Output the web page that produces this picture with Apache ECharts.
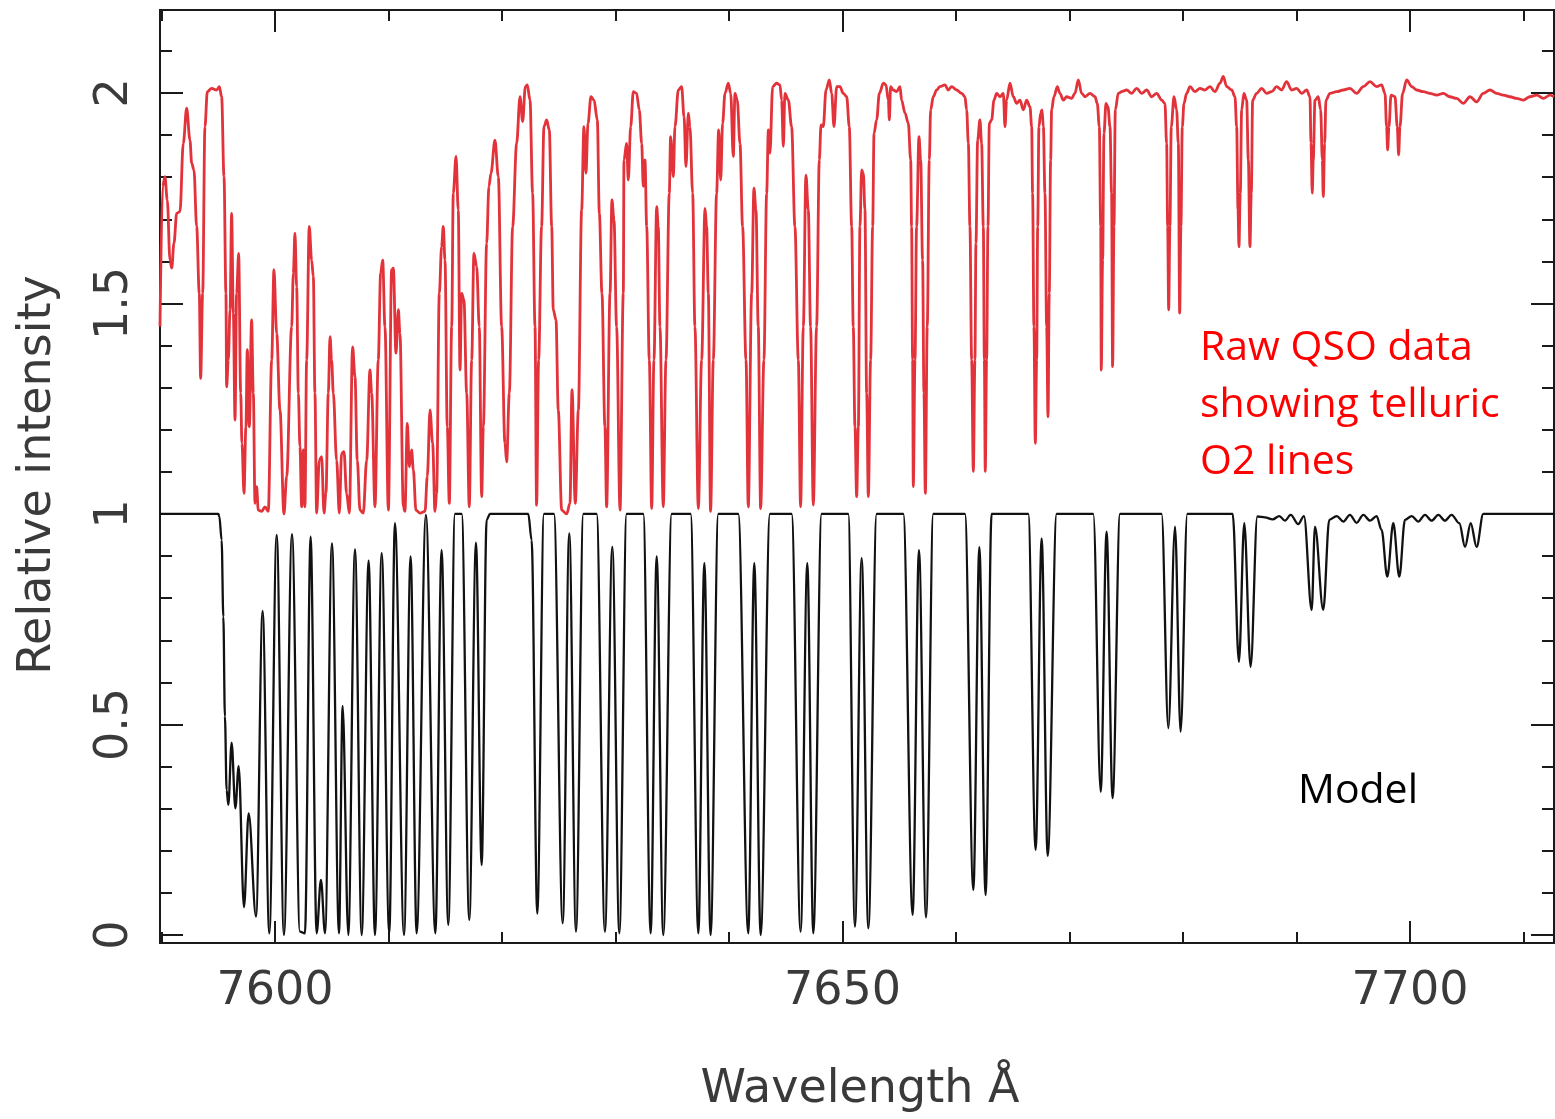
<!DOCTYPE html>
<html><head><meta charset="utf-8">
<script src="https://cdn.jsdelivr.net/npm/echarts@6/dist/echarts.min.js"></script>
<style>html,body{margin:0;padding:0;background:#fff;}#c{width:1555px;height:1119px;}</style>
</head><body><div id="c"></div>
<script>
const xRange = [7589.87, 7712.69];
const yRange = [-0.019, 2.197];
const xMajorTicks = [7600, 7650, 7700];
const xMinorTicks = [7590, 7610, 7620, 7630, 7640, 7660, 7670, 7680, 7690, 7710];
const yMajorTicks = [0, 0.5, 1, 1.5, 2];
const yMinorTicks = [0.1,0.2,0.3,0.4,0.6,0.7,0.8,0.9,1.1,1.2,1.3,1.4,1.6,1.7,1.8,1.9,2.1];
const xTitle = 'Wavelength Å';
const yTitle = 'Relative intensity';
const qsoLabel = ['Raw QSO data', 'showing telluric', 'O2 lines'];
const modelLabel = 'Model';

const modelSpectrum = [[7589.87,1.0],[7595.01,1.0],[7595.10,0.994],[7595.30,0.938],[7595.45,0.756],[7595.59,0.519],[7595.74,0.344],[7595.89,0.309],[7596.18,0.457],[7596.51,0.301],[7596.80,0.401],[7597.27,0.066],[7597.68,0.289],[7598.33,0.044],[7598.91,0.770],[7599.50,0.004],[7600.15,0.950],[7600.79,0.0],[7601.50,0.952],[7602.20,0.008],[7602.64,0.004],[7603.14,0.946],[7603.67,0.004],[7604.05,0.131],[7604.41,0.004],[7605.02,0.930],[7605.64,0.004],[7605.96,0.544],[7606.46,0.0],[7607.05,0.916],[7607.64,0.0],[7608.25,0.889],[7608.81,0.0],[7609.40,0.907],[7610.07,0.004],[7610.57,0.978],[7611.37,0.0],[7611.95,0.899],[7612.48,0.004],[7613.30,0.998],[7614.13,0.004],[7614.68,0.914],[7615.27,0.024],[7615.86,1.0],[7616.45,1.0],[7617.12,0.036],[7617.71,0.932],[7618.21,0.166],[7618.65,0.986],[7618.94,1.0],[7622.32,1.0],[7622.61,0.938],[7623.11,0.051],[7623.70,1.0],[7624.58,1.0],[7625.35,0.028],[7625.93,0.954],[7626.52,0.008],[7627.17,1.0],[7628.34,1.0],[7629.07,0.008],[7629.72,0.922],[7630.34,0.004],[7630.98,1.0],[7632.45,1.0],[7633.10,0.004],[7633.63,0.899],[7634.21,0.0],[7634.95,1.0],[7636.62,1.0],[7637.30,0.004],[7637.83,0.883],[7638.38,0.0],[7639.06,1.0],[7640.82,1.0],[7641.70,0.004],[7642.23,0.883],[7642.79,0.0],[7643.61,1.0],[7645.52,1.0],[7646.31,0.008],[7646.90,0.883],[7647.43,0.004],[7648.16,1.0],[7650.51,1.0],[7651.10,0.020],[7651.69,0.895],[7652.28,0.016],[7653.01,1.0],[7655.36,1.0],[7656.18,0.048],[7656.74,0.914],[7657.36,0.042],[7658.00,1.0],[7660.79,1.0],[7661.53,0.107],[7662.06,0.921],[7662.61,0.095],[7663.14,1.0],[7666.37,1.0],[7667.02,0.202],[7667.55,0.942],[7668.08,0.188],[7668.87,1.0],[7672.10,1.0],[7672.75,0.340],[7673.27,0.958],[7673.80,0.325],[7674.45,1.0],[7678.12,1.0],[7678.71,0.491],[7679.30,0.970],[7679.79,0.483],[7680.38,1.0],[7684.38,1.0],[7684.93,0.649],[7685.40,0.978],[7685.96,0.637],[7686.55,0.994],[7687.22,0.992],[7687.90,0.987],[7688.49,0.995],[7688.99,0.984],[7689.49,0.998],[7690.16,0.976],[7690.66,0.995],[7691.34,0.772],[7691.63,0.970],[7692.36,0.772],[7692.89,0.986],[7693.54,0.995],[7694.13,0.982],[7694.71,0.998],[7695.30,0.979],[7695.89,0.998],[7696.48,0.984],[7697.06,0.995],[7697.50,0.962],[7698.00,0.851],[7698.53,0.978],[7699.06,0.851],[7699.56,0.986],[7700.15,0.995],[7700.73,0.982],[7701.32,0.998],[7701.91,0.984],[7702.50,0.998],[7703.08,0.984],[7703.67,0.998],[7704.35,0.978],[7704.85,0.922],[7705.35,0.978],[7705.87,0.922],[7706.46,1.0],[7712.69,1.0]];

const qsoSpectrum = [[7589.87,1.445],[7590.10,1.778],[7590.31,1.801],[7590.51,1.746],[7590.75,1.603],[7590.90,1.584],[7591.10,1.643],[7591.34,1.714],[7591.63,1.718],[7591.92,1.880],[7592.22,1.964],[7592.51,1.888],[7592.66,1.833],[7592.86,1.817],[7593.10,1.683],[7593.33,1.524],[7593.45,1.322],[7593.63,1.524],[7593.83,1.920],[7594.04,2.003],[7594.42,2.011],[7594.86,2.007],[7595.10,2.015],[7595.30,1.991],[7595.51,1.801],[7595.68,1.524],[7595.74,1.302],[7595.89,1.366],[7596.04,1.485],[7596.18,1.714],[7596.33,1.477],[7596.48,1.223],[7596.62,1.524],[7596.80,1.619],[7596.98,1.287],[7597.09,1.168],[7597.27,1.049],[7597.44,1.207],[7597.56,1.390],[7597.74,1.207],[7597.94,1.461],[7598.09,1.287],[7598.24,1.025],[7598.38,1.065],[7598.53,1.009],[7598.83,1.006],[7599.12,1.017],[7599.41,1.006],[7599.71,1.366],[7599.91,1.580],[7600.15,1.429],[7600.44,1.247],[7600.79,1.0],[7601.03,1.089],[7601.47,1.445],[7601.62,1.572],[7601.76,1.667],[7601.91,1.540],[7602.06,1.287],[7602.20,1.160],[7602.35,1.017],[7602.50,1.152],[7602.64,1.017],[7602.79,1.366],[7603.02,1.683],[7603.23,1.603],[7603.38,1.564],[7603.52,1.287],[7603.67,1.002],[7603.91,1.128],[7604.11,1.136],[7604.32,1.002],[7604.49,1.049],[7604.70,1.287],[7604.85,1.421],[7604.99,1.366],[7605.14,1.287],[7605.43,1.128],[7605.67,1.002],[7605.87,1.144],[7606.08,1.148],[7606.31,1.049],[7606.55,1.002],[7606.84,1.397],[7607.05,1.326],[7607.25,1.128],[7607.49,1.009],[7607.78,1.002],[7608.08,1.128],[7608.37,1.342],[7608.52,1.287],[7608.81,1.017],[7609.10,1.366],[7609.31,1.572],[7609.49,1.603],[7609.69,1.445],[7609.99,1.009],[7610.28,1.580],[7610.43,1.584],[7610.66,1.382],[7610.87,1.485],[7611.01,1.429],[7611.31,1.017],[7611.45,1.006],[7611.66,1.215],[7611.84,1.112],[7612.04,1.152],[7612.19,1.105],[7612.42,1.009],[7612.78,1.002],[7613.22,1.006],[7613.42,1.089],[7613.66,1.247],[7613.89,1.168],[7614.10,1.006],[7614.24,1.049],[7614.48,1.524],[7614.68,1.635],[7614.83,1.683],[7614.98,1.603],[7615.18,1.207],[7615.36,1.025],[7615.57,1.445],[7615.71,1.762],[7615.95,1.849],[7616.15,1.722],[7616.30,1.342],[7616.45,1.524],[7616.65,1.508],[7616.89,1.287],[7617.12,1.017],[7617.33,1.366],[7617.53,1.619],[7617.77,1.588],[7618.00,1.445],[7618.21,1.041],[7618.36,1.207],[7618.65,1.643],[7618.85,1.778],[7619.03,1.809],[7619.38,1.888],[7619.68,1.801],[7619.97,1.445],[7620.26,1.168],[7620.41,1.124],[7620.65,1.287],[7620.94,1.683],[7621.29,1.880],[7621.59,1.991],[7621.82,1.932],[7622.06,2.015],[7622.23,2.019],[7622.47,1.983],[7622.70,1.762],[7622.91,1.445],[7623.05,1.021],[7623.23,1.366],[7623.49,1.683],[7623.70,1.920],[7623.94,1.936],[7624.17,1.912],[7624.38,1.683],[7624.52,1.485],[7624.76,1.461],[7624.96,1.247],[7625.26,1.009],[7625.70,1.0],[7625.99,1.025],[7626.17,1.295],[7626.46,1.025],[7626.73,1.247],[7627.02,1.722],[7627.22,1.920],[7627.40,1.809],[7627.58,1.928],[7627.84,1.991],[7628.11,1.983],[7628.40,1.936],[7628.58,1.714],[7628.81,1.524],[7629.07,1.207],[7629.22,1.017],[7629.52,1.524],[7629.69,1.746],[7629.87,1.698],[7630.10,1.445],[7630.40,1.009],[7630.69,1.524],[7630.75,1.841],[7630.98,1.880],[7631.13,1.793],[7631.34,1.920],[7631.57,2.003],[7631.86,1.999],[7632.10,1.960],[7632.31,1.880],[7632.45,1.778],[7632.60,1.841],[7632.75,1.683],[7632.98,1.366],[7633.19,1.013],[7633.39,1.366],[7633.63,1.730],[7633.77,1.683],[7633.92,1.445],[7634.21,1.017],[7634.45,1.366],[7634.74,1.762],[7634.86,1.896],[7635.10,1.801],[7635.24,1.920],[7635.54,2.007],[7635.83,2.015],[7636.04,1.944],[7636.21,1.825],[7636.42,1.952],[7636.56,1.920],[7636.80,1.762],[7637.00,1.445],[7637.30,1.013],[7637.59,1.366],[7637.89,1.726],[7638.03,1.683],[7638.18,1.524],[7638.38,1.006],[7638.62,1.366],[7638.91,1.762],[7639.09,1.912],[7639.27,1.793],[7639.44,1.928],[7639.65,1.999],[7639.94,2.023],[7640.15,1.999],[7640.38,1.849],[7640.53,1.999],[7640.73,1.983],[7640.97,1.880],[7641.20,1.683],[7641.50,1.366],[7641.70,1.017],[7642.00,1.524],[7642.20,1.774],[7642.38,1.722],[7642.58,1.445],[7642.79,1.013],[7643.08,1.366],[7643.32,1.762],[7643.47,1.912],[7643.61,1.857],[7643.85,2.015],[7644.20,2.023],[7644.49,2.019],[7644.64,1.983],[7644.79,1.873],[7644.93,1.999],[7645.23,1.983],[7645.52,1.920],[7645.81,1.683],[7646.11,1.366],[7646.31,1.017],[7646.55,1.445],[7646.78,1.805],[7646.99,1.722],[7647.19,1.445],[7647.43,1.021],[7647.72,1.445],[7647.96,1.841],[7648.11,1.924],[7648.31,1.920],[7648.55,2.007],[7648.84,2.031],[7649.05,1.999],[7649.25,1.920],[7649.49,2.015],[7649.78,2.015],[7650.07,1.999],[7650.37,1.991],[7650.60,1.920],[7650.81,1.683],[7650.95,1.445],[7651.10,1.207],[7651.25,1.041],[7651.40,1.207],[7651.54,1.683],[7651.69,1.817],[7651.84,1.809],[7651.98,1.722],[7652.13,1.287],[7652.28,1.041],[7652.48,1.366],[7652.66,1.683],[7652.78,1.904],[7653.01,1.936],[7653.25,1.999],[7653.60,2.023],[7653.83,2.019],[7654.04,1.983],[7654.13,1.936],[7654.24,2.015],[7654.48,2.007],[7654.77,2.003],[7655.07,2.015],[7655.21,1.983],[7655.51,1.952],[7655.80,1.928],[7656.01,1.841],[7656.09,1.683],[7656.18,1.366],[7656.24,1.065],[7656.39,1.366],[7656.53,1.683],[7656.74,1.896],[7656.89,1.841],[7657.06,1.603],[7657.18,1.287],[7657.30,1.049],[7657.47,1.445],[7657.65,1.841],[7657.77,1.960],[7658.00,1.991],[7658.30,2.007],[7658.59,2.015],[7659.03,2.019],[7659.32,2.007],[7659.62,2.015],[7660.06,2.007],[7660.50,1.999],[7660.79,1.991],[7660.94,1.960],[7661.09,1.880],[7661.23,1.683],[7661.38,1.366],[7661.53,1.101],[7661.67,1.366],[7661.76,1.643],[7661.91,1.888],[7662.11,1.936],[7662.26,1.880],[7662.41,1.683],[7662.50,1.366],[7662.58,1.101],[7662.70,1.366],[7662.82,1.683],[7662.94,1.928],[7663.14,1.936],[7663.35,1.983],[7663.58,1.999],[7663.88,1.991],[7664.17,1.999],[7664.32,1.920],[7664.46,1.983],[7664.76,2.023],[7665.05,1.991],[7665.35,1.975],[7665.64,1.983],[7665.93,1.960],[7666.23,1.983],[7666.52,1.967],[7666.67,1.920],[7666.75,1.762],[7666.87,1.445],[7666.99,1.168],[7667.11,1.366],[7667.20,1.683],[7667.31,1.920],[7667.46,1.952],[7667.58,1.960],[7667.70,1.920],[7667.84,1.762],[7667.99,1.445],[7668.11,1.231],[7668.22,1.524],[7668.34,1.841],[7668.43,1.960],[7668.63,1.991],[7668.93,2.015],[7669.16,1.999],[7669.46,1.983],[7669.75,1.991],[7670.19,1.987],[7670.48,1.999],[7670.78,2.031],[7671.07,1.999],[7671.37,1.991],[7671.81,1.999],[7672.25,1.991],[7672.45,1.975],[7672.63,1.920],[7672.75,1.683],[7672.80,1.342],[7672.92,1.603],[7673.04,1.904],[7673.22,1.975],[7673.39,1.967],[7673.57,1.920],[7673.71,1.762],[7673.80,1.350],[7673.92,1.683],[7674.04,1.960],[7674.30,1.999],[7674.60,2.003],[7675.04,2.007],[7675.48,1.999],[7675.92,2.011],[7676.36,1.999],[7676.80,2.007],[7677.24,1.991],[7677.68,1.999],[7678.12,1.983],[7678.41,1.975],[7678.56,1.880],[7678.65,1.683],[7678.74,1.485],[7678.85,1.683],[7678.97,1.920],[7679.21,1.991],[7679.44,1.960],[7679.59,1.880],[7679.71,1.477],[7679.82,1.683],[7679.94,1.920],[7680.09,1.975],[7680.32,1.999],[7680.62,2.015],[7681.06,2.003],[7681.50,2.011],[7681.94,2.007],[7682.38,2.015],[7682.82,2.003],[7683.26,2.023],[7683.55,2.039],[7683.85,2.015],[7684.29,2.007],[7684.58,1.991],[7684.73,1.920],[7684.85,1.722],[7684.93,1.635],[7685.05,1.762],[7685.17,1.960],[7685.37,1.999],[7685.61,1.983],[7685.76,1.841],[7685.90,1.635],[7686.02,1.762],[7686.14,1.983],[7686.49,1.999],[7686.93,2.011],[7687.37,1.999],[7687.81,2.003],[7688.25,2.015],[7688.69,2.007],[7689.13,2.027],[7689.57,2.007],[7690.01,2.011],[7690.46,1.999],[7690.90,2.007],[7691.19,1.991],[7691.28,1.880],[7691.39,1.762],[7691.48,1.841],[7691.63,1.983],[7691.92,1.991],[7692.13,1.960],[7692.28,1.841],[7692.36,1.754],[7692.48,1.880],[7692.60,1.983],[7692.95,1.999],[7693.54,2.003],[7694.13,2.007],[7694.71,2.011],[7695.30,1.999],[7695.89,2.015],[7696.48,2.027],[7697.06,2.015],[7697.50,2.019],[7697.80,1.999],[7697.94,1.920],[7698.03,1.865],[7698.15,1.920],[7698.33,1.995],[7698.68,1.991],[7698.88,1.920],[7699.00,1.853],[7699.12,1.920],[7699.35,1.999],[7699.71,2.031],[7700.15,2.015],[7700.59,2.007],[7701.17,2.003],[7701.76,1.999],[7702.35,1.995],[7702.94,1.999],[7703.52,1.991],[7704.11,1.987],[7704.70,1.975],[7705.29,1.991],[7705.87,1.979],[7706.46,1.999],[7707.05,2.007],[7707.64,1.999],[7708.22,1.995],[7708.81,1.991],[7709.40,1.987],[7709.99,1.983],[7710.57,1.991],[7711.16,1.995],[7711.75,1.987],[7712.33,1.995],[7712.69,1.991]];

const axisColor = '#1a1a1a';
const labelFont = { fontFamily: "'DejaVu Sans', sans-serif", fontSize: 46, color: '#3a3a3a' };

function xAxisDef(position, ticks, len, withLabels) {
  return {
    type: 'value', position: position, min: xRange[0], max: xRange[1],
    axisLine: { show: true, onZero: false, lineStyle: { color: axisColor, width: 2 } },
    axisTick: { show: true, inside: true, length: len, customValues: ticks, lineStyle: { color: axisColor, width: 2 } },
    axisLabel: Object.assign({ show: withLabels, customValues: ticks, margin: 26, formatter: v => String(v) }, labelFont),
    splitLine: { show: false }
  };
}
function yAxisDef(position, ticks, len, withLabels) {
  return {
    type: 'value', position: position, min: yRange[0], max: yRange[1],
    axisLine: { show: true, onZero: false, lineStyle: { color: axisColor, width: 2 } },
    axisTick: { show: true, inside: true, length: len, customValues: ticks, lineStyle: { color: axisColor, width: 2 } },
    axisLabel: Object.assign({ show: withLabels, customValues: ticks, rotate: 90, margin: 22, formatter: v => String(v) }, labelFont),
    splitLine: { show: false }
  };
}

const chart = echarts.init(document.getElementById('c'), null, { renderer: 'canvas' });
chart.setOption({
  animation: false,
  backgroundColor: '#fff',
  grid: { left: 160, top: 10, width: 1394, height: 933, containLabel: false },
  xAxis: [
    xAxisDef('bottom', xMajorTicks, 22, true),
    xAxisDef('bottom', xMinorTicks, 11, false),
    xAxisDef('top', xMajorTicks, 22, false),
    xAxisDef('top', xMinorTicks, 11, false)
  ],
  yAxis: [
    yAxisDef('left', yMajorTicks, 23, true),
    yAxisDef('left', yMinorTicks, 12, false),
    yAxisDef('right', yMajorTicks, 23, false),
    yAxisDef('right', yMinorTicks, 12, false)
  ],
  series: [
    { type: 'line', data: modelSpectrum, showSymbol: false, symbol: 'none', clip: true,
      smooth: 0.35, smoothMonotone: 'x',
      lineStyle: { color: '#111', width: 2.3 }, z: 3 },
    { type: 'line', data: qsoSpectrum, showSymbol: false, symbol: 'none', clip: true,
      smooth: 0.35, smoothMonotone: 'x',
      lineStyle: { color: '#e2323a', width: 2.8 }, z: 4 }
  ],
  graphic: [
    { type: 'text', style: { x: 860, y: 1090, text: xTitle, align: 'center', verticalAlign: 'middle',
      font: "46px 'DejaVu Sans'", fill: '#3a3a3a' } },
    { type: 'text', x: 38, y: 475, rotation: Math.PI / 2,
      style: { x: 0, y: 0, text: yTitle, align: 'center', verticalAlign: 'middle', font: "46px 'DejaVu Sans'", fill: '#3a3a3a' } },
    { type: 'text', style: { x: 1200, y: 348, text: qsoLabel[0], verticalAlign: 'middle', font: "41px 'Open Sans'", fill: '#ff0000' } },
    { type: 'text', style: { x: 1200, y: 405, text: qsoLabel[1], verticalAlign: 'middle', font: "41px 'Open Sans'", fill: '#ff0000' } },
    { type: 'text', style: { x: 1200, y: 462, text: qsoLabel[2], verticalAlign: 'middle', font: "41px 'Open Sans'", fill: '#ff0000' } },
    { type: 'text', style: { x: 1298, y: 791, text: modelLabel, verticalAlign: 'middle', font: "41px 'Open Sans'", fill: '#000' } }
  ]
});
</script></body></html>
